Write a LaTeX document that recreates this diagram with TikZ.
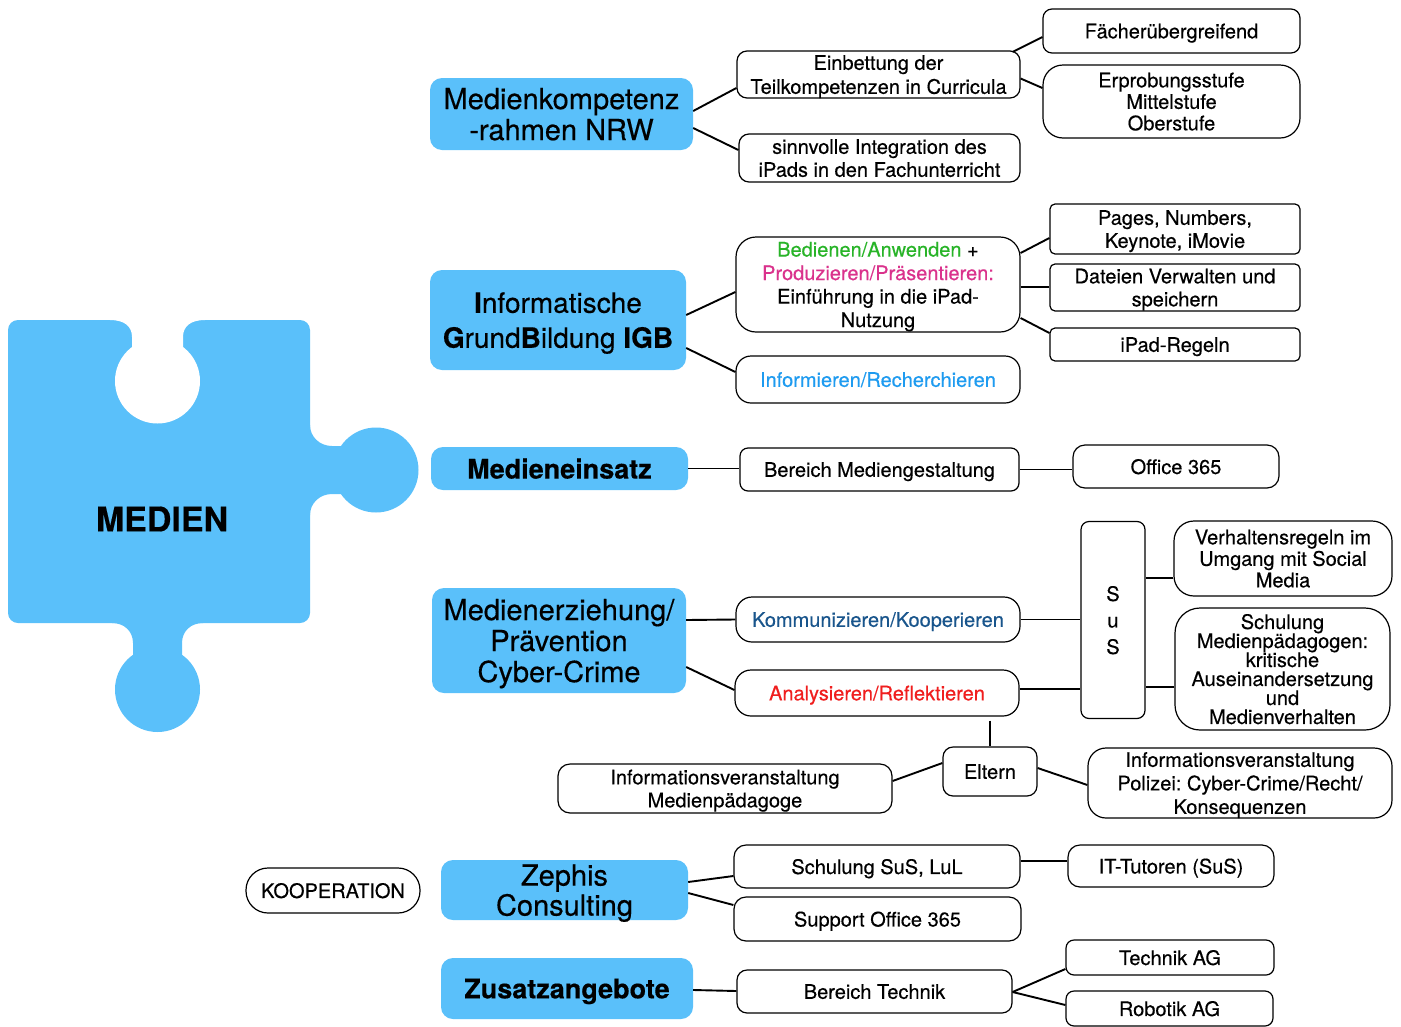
\documentclass[tikz,border=0pt]{standalone}
\usepackage{fontspec}
\setmainfont{TeX Gyre Heros}[FakeBold=0.4]
\usetikzlibrary{calc}
\definecolor{pblue}{RGB}{90,192,250}
\definecolor{cgreen}{RGB}{40,180,40}
\definecolor{cmag}{RGB}{218,50,140}
\definecolor{clblue}{RGB}{30,155,240}
\definecolor{cdblue}{RGB}{25,85,140}
\definecolor{cred}{RGB}{240,30,30}
\newcommand{\smallf}{\fontsize{20}{23}\selectfont}
\newcommand{\bigf}{\fontsize{29}{31}\selectfont}
\frenchspacing
\begin{document}
\begin{tikzpicture}[x=1pt,y=-1pt,
  bluebox/.style={fill=pblue, rounded corners=12pt, align=center, inner sep=0pt, text depth=0pt, font=\bigf},
  wbox/.style={draw, line width=1.2pt, fill=white, rounded corners=#1, align=center, inner sep=0pt, text depth=0pt, font=\smallf},
  wbox/.default=9pt,
  conn/.style={line width=1.9pt}]
\useasboundingbox (0,0) rectangle (1401,1026);
\fill[white] (0,0) rectangle (1401,1026);

% puzzle piece
\fill[pblue, rounded corners=10pt] (8,320) rectangle (310,623);
\fill[pblue] (300,425) -- (310,425) .. controls (310,437) and (320,446) .. (332,446) -- (348,446) -- (348,494) -- (332,494) .. controls (320,494) and (310,503) .. (310,515) -- (300,515) -- cycle;
\fill[pblue] (376,470) circle (42.5pt);
\fill[pblue] (112,613) -- (112,623) .. controls (124,623) and (133,631) .. (133,643) -- (133,665) -- (182,665) -- (182,643) .. controls (182,631) and (191,623) .. (203,623) -- (203,613) -- cycle;
\fill[pblue] (157.5,689.5) circle (42.5pt);
\fill[white] (157.5,381) circle (42.5pt);
\fill[white] (110,310) -- (110,320) .. controls (124,320) and (132,326) .. (132,337) -- (132,355) -- (183,355) -- (183,337) .. controls (183,326) and (191,320) .. (205,320) -- (205,310) -- cycle;
\node[font=\fontsize{34}{36}\selectfont\bfseries] (medien) at (162,519) {MEDIEN};

% blue boxes
\node[bluebox, minimum width=263pt, minimum height=72pt] (mk) at (561.5,114) {Medienkompetenz\\-rahmen NRW};
\node[bluebox, minimum width=256pt, minimum height=100pt, font=\fontsize{28}{35}\selectfont] (igb) at (558,320) {\textbf{I}nformatische\\\textbf{G}rund\textbf{B}ildung \textbf{IGB}};
\node[bluebox, minimum width=257pt, minimum height=43pt, font=\fontsize{27}{30}\selectfont\bfseries] (me) at (559.5,468.5) {Medieneinsatz};
\node[bluebox, minimum width=254pt, minimum height=105pt] (mz) at (559,640.5) {Medienerziehung/\\Prävention\\Cyber-Crime};
\node[bluebox, minimum width=247pt, minimum height=60pt, font=\fontsize{29}{30}\selectfont] (ze) at (564.5,890) {Zephis\\Consulting};
\node[bluebox, minimum width=252pt, minimum height=61pt, font=\fontsize{27}{30}\selectfont\bfseries] (zu) at (567,988.5) {Zusatzangebote};

% white boxes
\node[wbox, minimum width=257pt, minimum height=44pt] (fa) at (1171.5,31) {Fächerübergreifend};
\node[wbox=20pt, minimum width=257pt, minimum height=73pt, font=\fontsize{20}{21.5}\selectfont] (ep) at (1171.5,101.5) {Erprobungsstufe\\Mittelstufe\\Oberstufe};
\node[wbox=10pt, minimum width=283pt, minimum height=47pt, font=\fontsize{20}{24}\selectfont] (eb) at (878.5,74.5) {Einbettung der\\Teilkompetenzen in Curricula};
\node[wbox=10pt, minimum width=281pt, minimum height=48pt] (si) at (879.5,158) {sinnvolle Integration des\\iPads in den Fachunterricht};
\node[wbox=5pt, minimum width=250pt, minimum height=50pt] (pa) at (1175,229) {Pages, Numbers,\\Keynote, iMovie};
\node[wbox=5pt, minimum width=250pt, minimum height=47pt] (da) at (1175,287.5) {Dateien Verwalten und\\speichern};
\node[wbox=5pt, minimum width=250pt, minimum height=33pt] (ir) at (1175,344.5) {iPad-Regeln};
\node[wbox=20pt, minimum width=284pt, minimum height=95pt, font=\fontsize{20}{23.5}\selectfont] (bd) at (878,284.5) {\textcolor{cgreen}{Bedienen/Anwenden} +\\\textcolor{cmag}{Produzieren/Präsentieren:}\\Einführung in die iPad-\\Nutzung};
\node[wbox=15pt, minimum width=284pt, minimum height=47pt, text=clblue] (inf) at (878,379.5) {Informieren/Recherchieren};
\node[wbox=8pt, minimum width=279pt, minimum height=43pt] (bm) at (879.5,469.5) {Bereich Mediengestaltung};
\node[wbox=12pt, minimum width=206pt, minimum height=43pt] (of) at (1176,466.5) {Office 365};
\node[wbox=16pt, minimum width=284pt, minimum height=45pt, text=cdblue] (ko) at (878,619.5) {Kommunizieren/Kooperieren};
\node[wbox=16pt, minimum width=284pt, minimum height=46pt, text=cred] (an) at (877,693) {Analysieren/Reflektieren};
\node[wbox=8pt, minimum width=64pt, minimum height=197pt, font=\fontsize{20}{26.5}\selectfont] (sus) at (1113,620) {S\\u\\S};
\node[wbox=20pt, minimum width=218pt, minimum height=75pt, font=\fontsize{20}{21.5}\selectfont] (vr) at (1283,558.5) {Verhaltensregeln im\\Umgang mit Social\\Media};
\node[wbox=25pt, minimum width=215pt, minimum height=122pt, font=\fontsize{20}{19}\selectfont] (sm) at (1282.5,669) {Schulung\\Medienpädagogen:\\kritische\\Auseinandersetzung\\und\\Medienverhalten};
\node[wbox=10pt, minimum width=94pt, minimum height=49pt] (el) at (990,771.5) {Eltern};
\node[wbox=12pt, minimum width=334pt, minimum height=49pt] (im) at (725,788.5) {Informationsveranstaltung\\Medienpädagoge};
\node[wbox=18pt, minimum width=304pt, minimum height=70pt, font=\fontsize{20}{23.5}\selectfont] (ip) at (1240,783) {Informationsveranstaltung\\Polizei: Cyber-Crime/Recht/\\Konsequenzen};
\node[wbox=22pt, minimum width=174pt, minimum height=45pt] (koop) at (333,890.5) {KOOPERATION};
\node[wbox=12pt, minimum width=286pt, minimum height=43pt] (ss) at (877,866.5) {Schulung SuS, LuL};
\node[wbox=12pt, minimum width=287pt, minimum height=44pt] (so) at (877.5,919) {Support Office 365};
\node[wbox=12pt, minimum width=206pt, minimum height=42pt] (it) at (1171,866) {IT-Tutoren (SuS)};
\node[wbox=10pt, minimum width=275pt, minimum height=43pt] (bt) at (874.5,991.5) {Bereich Technik};
\node[wbox=8pt, minimum width=208pt, minimum height=35pt] (ta) at (1170,957.5) {Technik AG};
\node[wbox=8pt, minimum width=207pt, minimum height=35pt] (ra) at (1169.5,1008.5) {Robotik AG};

% connectors
\draw[conn] ($(mk.east)+(0,-3)$) -- ($(eb.west)+(0,13.5)$);
\draw[conn] ($(mk.east)+(0,14)$) -- ($(si.west)+(0,-8)$);
\draw[conn] ($(eb.east)+(-8,-22.5)$) -- ($(fa.west)+(0,6)$);
\draw[conn] ($(eb.east)+(0,4)$) -- ($(ep.west)+(0,-13.5)$);
\draw[conn] ($(igb.east)+(0,-5)$) -- ($(bd.west)+(0,7.5)$);
\draw[conn] ($(igb.east)+(0,28)$) -- ($(inf.west)+(0,-7.5)$);
\draw[conn] ($(bd.east)+(0,-31.5)$) -- ($(pa.west)+(0,9)$);
\draw[conn] ($(bd.east)+(0,2.5)$) -- ($(da.west)+(0,-0.5)$);
\draw[conn] ($(bd.east)+(0,33.5)$) -- ($(ir.west)+(0,-11.5)$);
\draw[conn] (me.east) -- (me.east -| bm.west);
\draw[conn] (bm.east) -- (bm.east -| of.west);
\draw[conn] ($(mz.east)+(0,-20.5)$) -- (ko.west);
\draw[conn] ($(mz.east)+(0,26.5)$) -- ($(an.west)+(0,-3)$);
\draw[conn] (ko.east) -- (ko.east -| sus.west);
\draw[conn] ($(an.east)+(0,-4)$) coordinate (q1) -- (q1 -| sus.west);
\draw[conn] ($(vr.west)+(0,19.5)$) coordinate (p1) -- (p1 -| sus.east);
\draw[conn] ($(sm.west)+(0,18)$) coordinate (p2) -- (p2 -| sus.east);
\draw[conn] ($(an.south -| el.north)+(0,4)$) -- (el.north);
\draw[conn] ($(el.west)+(0,-8.5)$) -- ($(im.east)+(0,-7.5)$);
\draw[conn] ($(el.east)+(0,-3.5)$) -- ($(ip.west)+(0,2)$);
\draw[conn] ($(ze.east)+(0,-8)$) -- ($(ss.west)+(0,9.5)$);
\draw[conn] ($(ze.east)+(0,3)$) -- ($(so.west)+(0,-14)$);
\draw[conn] ($(ss.east)+(0,-5.5)$) -- ($(it.west)+(0,-5)$);
\draw[conn] ($(zu.east)+(0,1.5)$) -- ($(bt.west)+(0,-0.5)$);
\draw[conn] ($(bt.east)+(0,0.5)$) -- ($(ta.west)+(0,11.5)$);
\draw[conn] ($(bt.east)+(0,0.5)$) -- ($(ra.west)+(0,-3.5)$);
\end{tikzpicture}
\end{document}
